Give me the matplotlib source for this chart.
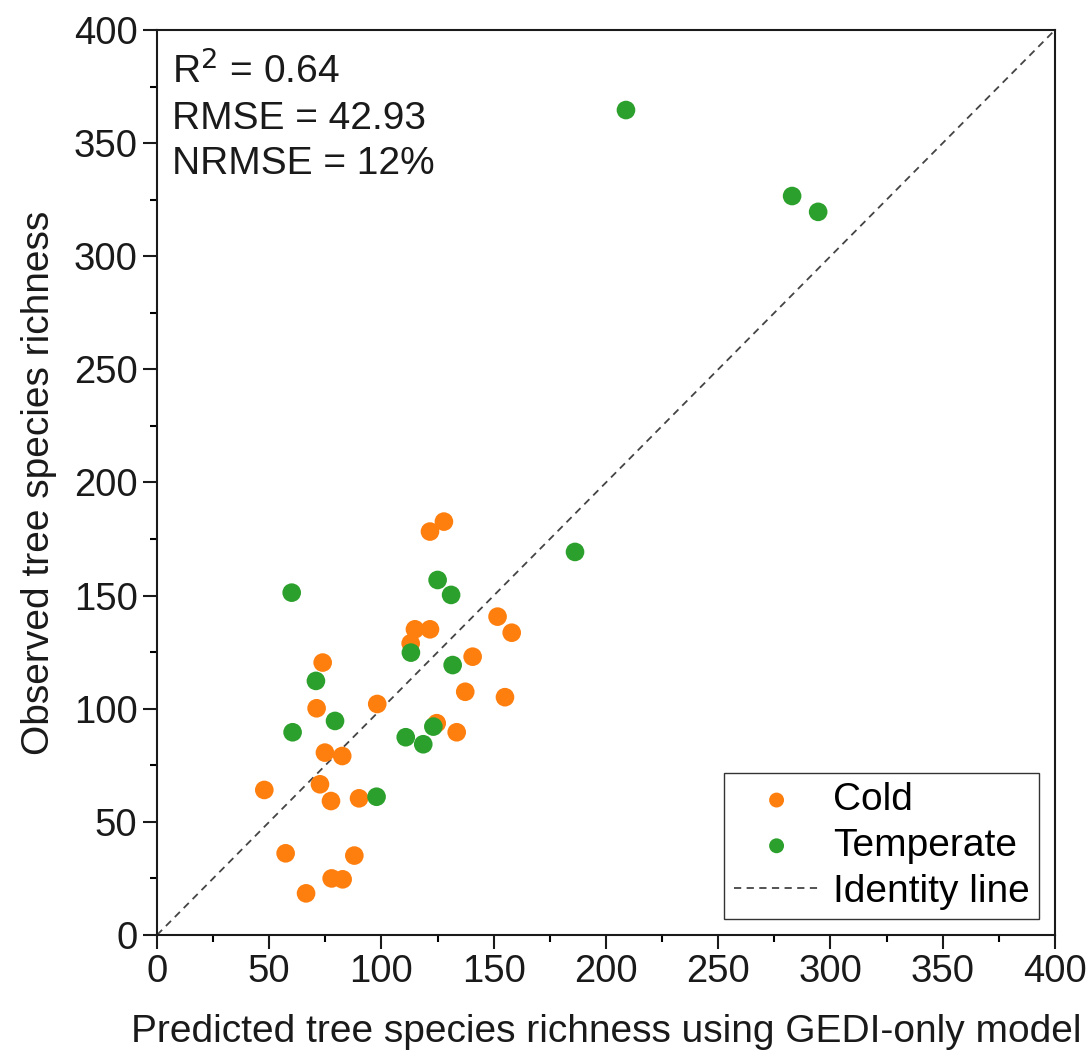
import matplotlib
matplotlib.use('Agg')
import matplotlib.pyplot as plt
from matplotlib.ticker import MultipleLocator

plt.rcParams['font.family'] = ['Liberation Sans', 'DejaVu Sans']

# Cold plots: predicted (GEDI-only) vs observed richness
cold_pred = [127.8, 121.6, 151.7, 158.0, 114.9, 121.6, 113.0, 73.8, 140.6, 137.3,
             155.0, 71.1, 98.1, 124.6, 133.5, 74.8, 82.5, 72.6, 47.8, 77.5,
             90.0, 57.3, 87.9, 77.8, 82.7, 66.4]
cold_obs = [182.7, 178.3, 140.7, 133.6, 135.1, 135.1, 128.9, 120.4, 123.0, 107.5,
            105.1, 100.2, 102.1, 93.6, 89.6, 80.6, 79.1, 66.6, 64.1, 59.2,
            60.4, 36.1, 35.1, 25.0, 24.6, 18.4]

# Temperate plots
temp_pred = [60.0, 125.0, 131.0, 113.1, 131.7, 70.8, 79.3, 60.4, 110.8, 118.6,
             123.1, 97.8, 186.2, 208.9, 282.9, 294.5]
temp_obs = [151.3, 156.9, 150.3, 124.8, 119.3, 112.3, 94.6, 89.6, 87.4, 84.3,
            92.1, 61.1, 169.3, 364.6, 326.6, 319.6]

stats_lines = ['R$^2$ = 0.64', 'RMSE = 42.93', 'NRMSE = 12%']

FS = 28

fig = plt.figure(figsize=(10.91, 10.62), dpi=100)
ax = fig.add_axes([0.1439, 0.1196, 0.8231, 0.8522])

ax.scatter(cold_pred, cold_obs, s=180, color='#ff7f0e', edgecolors='none',
           label='Cold', zorder=3)
ax.scatter(temp_pred, temp_obs, s=180, color='#2ca02c', edgecolors='none',
           label='Temperate', zorder=3)
ax.plot([0, 400], [0, 400], linestyle='--', color='#444444', linewidth=1.3,
        dashes=(4, 3), label='Identity line', zorder=2)

ax.set_xlim(0, 400)
ax.set_ylim(0, 400)
ax.xaxis.set_major_locator(MultipleLocator(50))
ax.yaxis.set_major_locator(MultipleLocator(50))
ax.xaxis.set_minor_locator(MultipleLocator(25))
ax.yaxis.set_minor_locator(MultipleLocator(25))
ax.tick_params(which='major', direction='out', length=10, width=1.5,
               labelsize=27.5, colors='#1a1a1a', pad=4)
ax.tick_params(which='minor', direction='out', length=5, width=1.5)
for sp in ax.spines.values():
    sp.set_linewidth(1.5)
    sp.set_color('#1a1a1a')

ax.set_xlabel('Predicted tree species richness using GEDI-only model',
              fontsize=FS, labelpad=17, color='#1a1a1a')
ax.set_ylabel('Observed tree species richness', fontsize=FS, labelpad=12,
              color='#1a1a1a')

ax.text(0.017, 0.976, '\n'.join(stats_lines), transform=ax.transAxes,
        fontsize=FS, va='top', ha='left', linespacing=1.33, color='#1a1a1a')

leg = ax.legend(loc='lower right', fontsize=FS, frameon=True, fancybox=False,
                edgecolor='black', borderaxespad=0.4, handlelength=2.2,
                handletextpad=0.35, labelspacing=0.25, borderpad=0.25,
                markerscale=0.8)
leg.get_frame().set_linewidth(1.0)

fig.savefig('out.png', dpi=100)
